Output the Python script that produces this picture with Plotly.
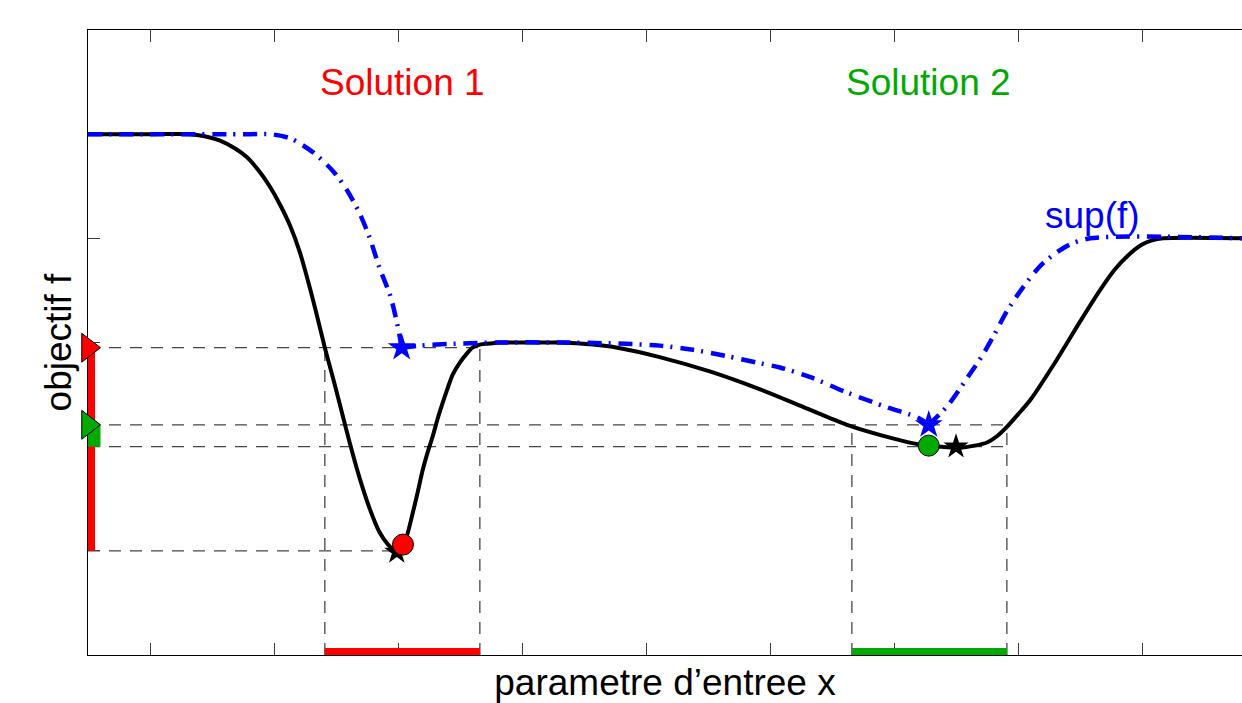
import plotly.graph_objects as go

# objective f(x) along the input parameter
x_f = [0.00, 0.50, 0.82, 0.94, 1.06, 1.19, 1.28, 1.39, 1.47, 1.55, 1.63, 1.71, 1.79,
       1.85, 1.91, 1.98, 2.03, 2.11, 2.19, 2.27, 2.35, 2.42, 2.48, 2.52, 2.56, 2.62,
       2.66, 2.70, 2.74, 2.78, 2.82, 2.86, 2.90, 2.94, 3.00, 3.06, 3.10, 3.16, 3.24,
       3.32, 3.54, 3.81, 4.07, 4.27, 4.61, 5.02, 5.42, 5.77, 6.12, 6.49, 6.71, 6.87,
       7.03, 7.15, 7.25, 7.33, 7.41, 7.50, 7.60, 7.81, 8.00, 8.16, 8.28, 8.40, 8.50,
       8.58, 8.67, 9.31]
f_vals = [5.00, 5.00, 5.00, 4.98, 4.94, 4.86, 4.78, 4.63, 4.49, 4.32, 4.12, 3.86, 3.52,
          3.24, 2.95, 2.64, 2.41, 2.04, 1.70, 1.41, 1.18, 1.06, 1.00, 1.02, 1.10, 1.37,
          1.57, 1.78, 1.95, 2.10, 2.27, 2.42, 2.56, 2.69, 2.81, 2.90, 2.95, 2.98, 2.99,
          3.00, 3.00, 3.00, 2.98, 2.95, 2.86, 2.72, 2.55, 2.38, 2.21, 2.08, 2.02, 2.00,
          1.99, 2.01, 2.04, 2.10, 2.19, 2.31, 2.45, 2.83, 3.20, 3.50, 3.70, 3.85, 3.94,
          3.98, 4.00, 4.00]

# sup(f) envelope
x_sup = [0.00, 1.31, 1.47, 1.63, 1.81, 1.98, 2.09, 2.19, 2.27, 2.35, 2.44, 2.50, 2.53,
         2.68, 3.00, 3.32, 3.81, 4.27, 4.61, 4.88, 5.15, 5.42, 5.58, 5.82, 6.12, 6.44,
         6.69, 6.78,
         6.93, 7.09, 7.22, 7.31, 7.41, 7.54, 7.70, 7.90, 8.08, 9.31]
sup_vals = [5.00, 5.00, 5.00, 4.96, 4.83, 4.64, 4.46, 4.24, 4.01, 3.72, 3.44, 3.14, 2.95,
            2.97, 2.99, 3.00, 3.00, 2.99, 2.97, 2.93, 2.87, 2.80, 2.76, 2.67, 2.52, 2.38,
            2.28, 2.21,
            2.39, 2.66, 2.89, 3.08, 3.30, 3.53, 3.76, 3.93, 4.00, 4.00]

# two candidate solutions: interval bounds, sup and min of f on each interval
sol_names = ["Solution 1", "Solution 2"]
sol_colors = ["#FF0000", "#00AA00"]
sol_lo = [1.91, 6.16]
sol_hi = [3.16, 7.41]
sol_sup_x = [2.53, 6.78]
sol_sup = [2.95, 2.21]
sol_min = [1.00, 2.00]
found_x = [2.54, 6.78]
found_f = [1.06, 2.01]
true_min_x = [2.49, 7.00]
true_min_f = [0.99, 2.00]

label_y = 5.50
sup_label_x, sup_label_y = 8.10, 4.22

FONT = "Liberation Sans, Arial, Helvetica, sans-serif"
GUIDE = dict(color="rgb(70,70,70)", width=1.3, dash="12px,9px")

fig = go.Figure()

# guide lines: horizontal from the f axis, vertical down to the x axis
guides = [
    ([0, sol_hi[0]], [sol_sup[0], sol_sup[0]]),
    ([0, true_min_x[0]], [sol_min[0], sol_min[0]]),
    ([0, sol_hi[1]], [sol_sup[1], sol_sup[1]]),
    ([0, sol_hi[1]], [sol_min[1], sol_min[1]]),
    ([sol_lo[0], sol_lo[0]], [0, sol_sup[0]]),
    ([sol_hi[0], sol_hi[0]], [0, sol_sup[0]]),
    ([sol_lo[1], sol_lo[1]], [0, sol_sup[1]]),
    ([sol_hi[1], sol_hi[1]], [0, sol_sup[1]]),
]
for gx, gy in guides:
    fig.add_trace(go.Scatter(x=gx, y=gy, mode="lines", line=GUIDE,
                             hoverinfo="skip", showlegend=False))

# interval bars on the x axis and range bars on the f axis
for i in range(2):
    fig.add_trace(go.Scatter(x=[sol_lo[i], sol_hi[i]], y=[0, 0], mode="lines",
                             line=dict(color=sol_colors[i], width=14), showlegend=False))
fig.add_trace(go.Scatter(x=[0, 0], y=[sol_min[0], sol_sup[0]], mode="lines",
                         line=dict(color=sol_colors[0], width=14), showlegend=False))
fig.add_trace(go.Scatter(x=[0, 0], y=[sol_min[1], sol_sup[1]], mode="lines",
                         line=dict(color=sol_colors[1], width=25), showlegend=False))

# objective
fig.add_trace(go.Scatter(x=x_f, y=f_vals, mode="lines", line=dict(color="black", width=4),
                         line_shape="spline", line_smoothing=0.8, showlegend=False))

# sup envelope, kinked at the interval sup points
cuts = [0] + [x_sup.index(v) for v in sol_sup_x] + [len(x_sup) - 1]
for a, b in zip(cuts[:-1], cuts[1:]):
    fig.add_trace(go.Scatter(x=x_sup[a:b + 1], y=sup_vals[a:b + 1], mode="lines",
                             line=dict(color="#0000FF", width=4.5, dash="14px,7px,2px,8px"),
                             line_shape="spline", line_smoothing=0.8, showlegend=False))

# markers
fig.add_trace(go.Scatter(x=true_min_x, y=true_min_f, mode="markers",
                         marker=dict(symbol="star", size=19, color="black", line=dict(width=0)),
                         showlegend=False))
fig.add_trace(go.Scatter(x=sol_sup_x, y=sol_sup, mode="markers",
                         marker=dict(symbol="star", size=21, color="#0000FF", line=dict(width=0)),
                         showlegend=False))
fig.add_trace(go.Scatter(x=found_x, y=found_f, mode="markers",
                         marker=dict(symbol="circle", size=21, color=sol_colors,
                                     line=dict(color="black", width=1)),
                         showlegend=False))
fig.add_trace(go.Scatter(x=[0, 0], y=sol_sup, mode="markers", cliponaxis=False,
                         marker=dict(symbol="triangle-right", size=25, color=sol_colors,
                                     line=dict(color="black", width=1)),
                         showlegend=False))

for i in range(2):
    fig.add_annotation(x=found_x[i], y=label_y, text=sol_names[i], showarrow=False,
                       xanchor="center", yanchor="middle",
                       font=dict(family=FONT, size=37, color=sol_colors[i]))
fig.add_annotation(x=sup_label_x, y=sup_label_y, text="sup(f)", showarrow=False,
                   xanchor="center", yanchor="middle",
                   font=dict(family=FONT, size=37, color="#0000FF"))

fig.update_layout(
    width=1242, height=703,
    margin=dict(l=88, r=0, t=30, b=48, pad=0),
    paper_bgcolor="white", plot_bgcolor="white",
    font=dict(family=FONT, size=37, color="black"),
    xaxis=dict(range=[0, 9.306], showgrid=False, zeroline=False, showline=True,
               linecolor="black", linewidth=1, mirror="ticks", ticks="inside",
               ticklen=12, tickcolor="rgb(60,60,60)", tickwidth=1, tick0=0.5, dtick=1,
               showticklabels=False, layer="below traces", automargin=False,
               title=dict(text="parametre d\u2019entree x", standoff=15,
                          font=dict(family=FONT, size=37, color="black"))),
    yaxis=dict(range=[0, 6], showgrid=False, zeroline=False, showline=True,
               linecolor="black", linewidth=1, mirror=False, ticks="inside",
               ticklen=12, tickcolor="rgb(60,60,60)", tickwidth=1, tick0=0, dtick=1,
               showticklabels=False, layer="below traces", automargin=False,
               title=dict(text="objectif f", standoff=4,
                          font=dict(family=FONT, size=37, color="black"))),
)

fig.write_html("out.html")
